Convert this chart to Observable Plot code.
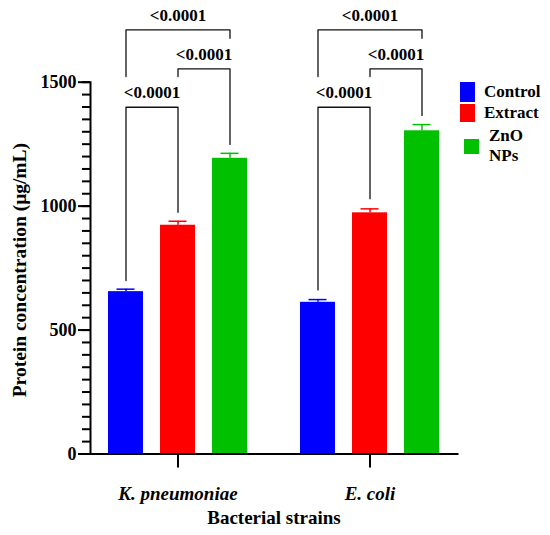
<!DOCTYPE html>
<html><head><meta charset="utf-8">
<script src="https://cdn.jsdelivr.net/npm/d3@7"></script>
<script src="https://cdn.jsdelivr.net/npm/@observablehq/plot@0.6"></script>
<style>
body{margin:0;background:#fff;}
#wrap{position:relative;width:550px;height:535px;font-family:"Liberation Serif","Times New Roman",serif;font-weight:bold;color:#000;}
.sw{position:absolute;}
.lt{position:absolute;font-size:17px;}
</style></head><body><div id="wrap"></div>
<script>
// ---- data ----
const strains = ["K. pneumoniae", "E. coli"];
const treatments = ["Control", "Extract", "ZnO NPs"];
const colors = ["#0000ff", "#ff0000", "#00c000"];
const kpValues = [655, 923, 1193];
const kpErrors = [10, 16, 20];
const ecValues = [612, 973, 1304];
const ecErrors = [11, 16, 25];
const yTicks = [0, 500, 1000, 1500];
const yMinorTicks = d3.range(0, 1501, 50);
// significance brackets
const brStrain = ["K. pneumoniae", "K. pneumoniae", "K. pneumoniae", "E. coli", "E. coli", "E. coli"];
const brFrom = ["Control", "Extract", "Control", "Control", "Extract", "Control"];
const brTo = ["Extract", "ZnO NPs", "ZnO NPs", "Extract", "ZnO NPs", "ZnO NPs"];
const brLevel = [1399, 1554, 1711, 1399, 1554, 1711];
const brLeftEnd = [700, 1523, 1523, 662, 1523, 1523];
const brRightEnd = [975, 1249, 1677, 1030, 1366, 1677];
const brLabel = ["<0.0001", "<0.0001", "<0.0001", "<0.0001", "<0.0001", "<0.0001"];

// ---- tables ----
const bars = strains.flatMap((s, si) => treatments.map((t, ti) => ({
  strain: s, treatment: t,
  value: (si === 0 ? kpValues : ecValues)[ti],
  err: (si === 0 ? kpErrors : ecErrors)[ti]
})));
const brackets = brStrain.map((s, i) => {
  const a = treatments.indexOf(brFrom[i]), b = treatments.indexOf(brTo[i]);
  const mid = (a + b) / 2;
  return {id: i, strain: s, from: brFrom[i], to: brTo[i], level: brLevel[i],
    leftEnd: brLeftEnd[i], rightEnd: brRightEnd[i], label: brLabel[i],
    anchor: treatments[Math.floor(mid)], half: mid !== Math.floor(mid)};
});
const bracketPts = brackets.flatMap(b => [
  {id: b.id, strain: b.strain, x: b.from, y: b.leftEnd},
  {id: b.id, strain: b.strain, x: b.from, y: b.level},
  {id: b.id, strain: b.strain, x: b.to, y: b.level},
  {id: b.id, strain: b.strain, x: b.to, y: b.rightEnd}
]);

const font = "Liberation Serif";
const layout = {
  width: 550, height: 535,
  marginTop: 81.7, marginBottom: 81.5, marginLeft: 89, marginRight: 92,
  style: "font-family: 'Liberation Serif', 'Times New Roman', serif; font-weight: bold; background: #fff; color: #000; overflow: visible;",
  fx: {domain: strains, paddingInner: 0.088, paddingOuter: 0, label: null},
  x: {domain: treatments, paddingInner: 1/3, paddingOuter: 0.343, axis: null},
  y: {domain: [0, 1500]},
  color: {domain: treatments, range: colors}
};
const probe = Plot.plot({...layout, marks: [Plot.barY(bars, {fx: "strain", x: "treatment", y: "value"})]});
const xs = probe.scale("x");
const step = xs.step ?? xs.bandwidth / (1 - 1/3);

const chart = Plot.plot({
  ...layout,
  marks: [
    Plot.barY(bars, {fx: "strain", x: "treatment", y: "value", fill: "treatment"}),
    Plot.ruleX(bars, {fx: "strain", x: "treatment", y1: "value", y2: d => d.value + d.err, stroke: "treatment", strokeWidth: 1.5}),
    Plot.tickY(bars, {fx: "strain", x: "treatment", y: d => d.value + d.err, stroke: "treatment", strokeWidth: 1.5, insetLeft: 8.5, insetRight: 8.5}),
    Plot.line(bracketPts, {fx: "strain", x: "x", y: "y", z: "id", stroke: "#111", strokeWidth: 1.3}),
    Plot.text(brackets.filter(b => !b.half), {fx: "strain", x: "anchor", y: "level", text: "label", dy: -14.5, fontSize: 17, fontWeight: "bold", fontFamily: font}),
    Plot.text(brackets.filter(b => b.half), {fx: "strain", x: "anchor", y: "level", text: "label", dx: step / 2, dy: -14.5, fontSize: 17, fontWeight: "bold", fontFamily: font}),
    Plot.axisY({ticks: yMinorTicks, tickSize: 8, tickFormat: () => "", label: null, strokeWidth: 2}),
    Plot.axisY({ticks: yTicks, tickSize: 12, tickPadding: 2, tickFormat: d => String(d), fontSize: 18, fontWeight: "bold", fontFamily: font, label: null, strokeWidth: 2}),
    Plot.axisFx({anchor: "bottom", tickSize: 14, tickPadding: 18, fontSize: 19, fontWeight: "bold", fontStyle: "italic", fontFamily: font, label: null, strokeWidth: 2}),
    Plot.frame({anchor: "bottom", facet: "super", strokeWidth: 2}),
    Plot.frame({anchor: "left", facet: "super", strokeWidth: 2}),
    Plot.text(["Bacterial strains"], {facet: "super", frameAnchor: "bottom", text: d => d, textAnchor: "middle", lineAnchor: "middle", dy: 63.5, fontSize: 19, fontWeight: "bold", fontFamily: font}),
    Plot.text(["Protein concentration (μg/mL)"], {facet: "super", frameAnchor: "left", text: d => d, textAnchor: "middle", lineAnchor: "middle", rotate: -90, dx: -71, dy: 2, fontSize: 19.5, fontWeight: "bold", fontFamily: font})
  ]
});
const wrap = document.getElementById("wrap");
wrap.appendChild(chart);

// legend (HTML, same colour scale)
const swatchBoxes = [
  {left: 460, top: 82, w: 15, h: 20},
  {left: 460, top: 104, w: 15, h: 18},
  {left: 464, top: 139, w: 15, h: 15}
];
const labelBoxes = [
  {left: 484, top: 83, lh: 17, width: 70},
  {left: 484, top: 104, lh: 17, width: 70},
  {left: 489, top: 126, lh: 20, width: 40}
];
treatments.forEach((t, i) => {
  const sw = document.createElement("div");
  sw.className = "sw";
  const b = swatchBoxes[i];
  Object.assign(sw.style, {left: b.left + "px", top: b.top + "px", width: b.w + "px", height: b.h + "px", background: chart.scale("color").apply(t)});
  wrap.appendChild(sw);
  const lt = document.createElement("div");
  lt.className = "lt";
  const l = labelBoxes[i];
  Object.assign(lt.style, {left: l.left + "px", top: l.top + "px", lineHeight: l.lh + "px", width: l.width + "px"});
  lt.textContent = t;
  wrap.appendChild(lt);
});
</script>
</body></html>
